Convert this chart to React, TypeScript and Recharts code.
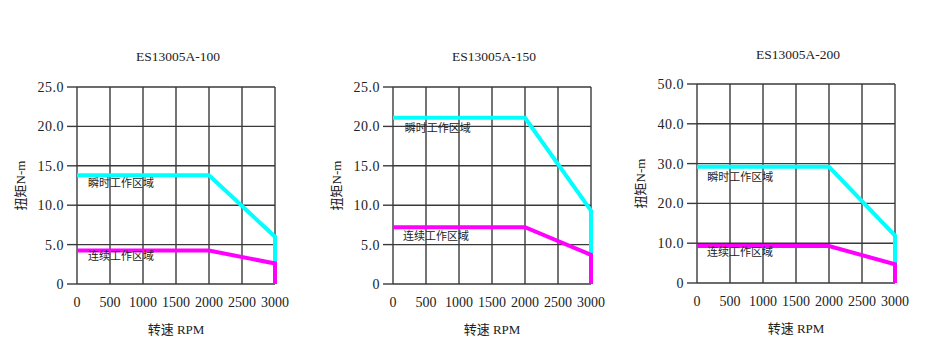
import React from 'react';
import { LineChart, Line, XAxis, YAxis, CartesianGrid, ReferenceDot, Label } from 'recharts';

// speed axis (rpm)
const speedTicks = [0, 500, 1000, 1500, 2000, 2500, 3000];
// corner points of both curves: flat to 2000, slope to 3000, then drop
const curveSpeeds = [0, 2000, 3000, 3000];

// ES13005A-100
const peak100 = [13.8, 13.8, 6.0, 2.5];
const cont100 = [4.25, 4.25, 2.6, 0];
// ES13005A-150
const peak150 = [21.1, 21.1, 9.3, 3.7];
const cont150 = [7.2, 7.2, 3.7, 0];
// ES13005A-200
const peak200 = [29.2, 29.2, 11.9, 4.6];
const cont200 = [9.3, 9.3, 4.7, 0];

const ticks25 = [0, 5, 10, 15, 20, 25];
const ticks50 = [0, 10, 20, 30, 40, 50];

const peakText = '瞬时工作区域';
const contText = '连续工作区域';

const FONT = "'Liberation Serif', 'DejaVu Serif', 'Noto Sans CJK SC', serif";
const GRID = '#3a3a3a';

interface ChartProps {
  title: string;
  peak: number[];
  cont: number[];
  yTicks: number[];
  left: number;
  top: number;
  bottom: number;
  titleTop: number;
  peakNote: [number, number];
  contNote: [number, number];
}

const TorqueChart = ({ title, peak, cont, yTicks, left, top, bottom, titleTop, peakNote, contNote }: ChartProps) => {
  const peakData = curveSpeeds.map((s, i) => ({ speed: s, torque: peak[i] }));
  const contData = curveSpeeds.map((s, i) => ({ speed: s, torque: cont[i] }));
  const yMax = yTicks[yTicks.length - 1];

  return (
    <div style={{ position: 'absolute', left, top: 0, width: 320, height: 356 }}>
      <div
        style={{
          position: 'absolute',
          left: 0,
          width: 356,
          top: titleTop,
          textAlign: 'center',
          fontSize: 13.5,
          lineHeight: '16px',
          color: '#222',
        }}
      >
        {title}
      </div>
      <LineChart width={320} height={356} margin={{ top, right: 45, bottom, left: 5 }}>
        <CartesianGrid stroke={GRID} strokeWidth={1.4} />
        <XAxis
          type="number"
          dataKey="speed"
          domain={[0, 3000]}
          ticks={speedTicks}
          interval={0}
          height={50}
          axisLine={false}
          tickLine={false}
          tickSize={6}
          tickMargin={7}
          tick={{ fill: '#222', fontSize: 14 }}
          allowDuplicatedCategory
        >
          <Label value="转速 RPM" position="insideBottom" offset={0} fill="#222" fontSize={13} />
        </XAxis>
        <YAxis
          type="number"
          domain={[0, yMax]}
          ticks={yTicks}
          interval={0}
          width={72}
          axisLine={false}
          tickLine={{ stroke: GRID, strokeWidth: 1.4 }}
          tickSize={10}
          tickMargin={3}
          tick={{ fill: '#222', fontSize: 14, letterSpacing: 0.5 }}
          tickFormatter={(v: number) => (v === 0 ? '0' : v.toFixed(1))}
        >
          <Label
            content={(props: any) => {
              const vb = props.viewBox || {};
              const cx = vb.x + 15;
              const cy = vb.y + vb.height / 2;
              return (
                <text
                  x={cx}
                  y={cy}
                  transform={`rotate(-90, ${cx}, ${cy})`}
                  textAnchor="middle"
                  dominantBaseline="central"
                  fill="#222"
                  fontSize={13}
                >
                  扭矩N-m
                </text>
              );
            }}
          />
        </YAxis>
        <Line
          data={peakData}
          dataKey="torque"
          type="linear"
          stroke="#00FFFF"
          strokeWidth={4}
          dot={false}
          activeDot={false}
          isAnimationActive={false}
        />
        <Line
          data={contData}
          dataKey="torque"
          type="linear"
          stroke="#FF00FF"
          strokeWidth={4}
          dot={false}
          activeDot={false}
          isAnimationActive={false}
        />
        <ReferenceDot
          x={peakNote[0]}
          y={peakNote[1]}
          r={0}
          fill="none"
          stroke="none"
          label={{ value: peakText, position: 'right', offset: 0, fill: '#222', fontSize: 11 }}
        />
        <ReferenceDot
          x={contNote[0]}
          y={contNote[1]}
          r={0}
          fill="none"
          stroke="none"
          label={{ value: contText, position: 'right', offset: 0, fill: '#222', fontSize: 11 }}
        />
      </LineChart>
    </div>
  );
};

export default function App() {
  return (
    <div style={{ position: 'absolute', left: 0, top: 0, width: 949, height: 356, background: '#fff', fontFamily: FONT }}>
      <TorqueChart
        title="ES13005A-100"
        peak={peak100}
        cont={cont100}
        yTicks={ticks25}
        left={0}
        top={87}
        bottom={22}
        titleTop={49}
        peakNote={[167, 12.8]}
        contNote={[167, 3.6]}
      />
      <TorqueChart
        title="ES13005A-150"
        peak={peak150}
        cont={cont150}
        yTicks={ticks25}
        left={316}
        top={87}
        bottom={22}
        titleTop={49}
        peakNote={[177, 19.8]}
        contNote={[151, 6.1]}
      />
      <TorqueChart
        title="ES13005A-200"
        peak={peak200}
        cont={cont200}
        yTicks={ticks50}
        left={620}
        top={84}
        bottom={23}
        titleTop={47}
        peakNote={[156, 26.6]}
        contNote={[151, 7.7]}
      />
    </div>
  );
}
